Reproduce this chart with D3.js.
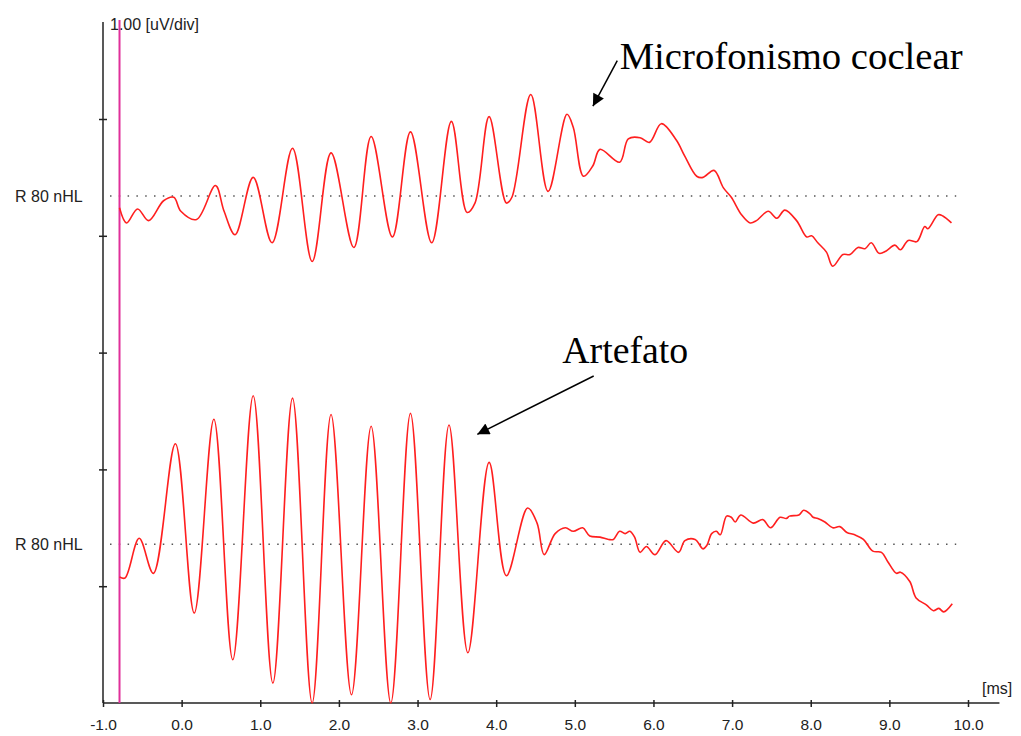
<!DOCTYPE html>
<html>
<head>
<meta charset="utf-8">
<script src="https://cdn.jsdelivr.net/npm/d3@7"></script>
<style>
  body { margin: 0; background: #fff; }
  .lbl { font-family: "Liberation Sans", Arial, sans-serif; font-size: 16px; fill: #222; }
  .tk { font-family: "Liberation Sans", Arial, sans-serif; font-size: 15.5px; fill: #222; }
  .note { font-family: "Liberation Serif", "Times New Roman", serif; font-size: 38px; fill: #000; }
</style>
</head>
<body>
<div id="chart"></div>
<script>
// time axis (ms)
var xTicks = [-1, 0, 1, 2, 3, 4, 5, 6, 7, 8, 9, 10];
// vertical divisions, 1 uV each
var yTicks = [1, 2, 3, 4, 5];
var stimTime = -0.79;

// upper trace (Microfonismo coclear), uV relative to its baseline
var upperTime = [-0.79, -0.70, -0.56, -0.42, -0.23, -0.10, -0.01, 0.19, 0.43, 0.54, 0.68, 0.91, 1.15, 1.41, 1.66, 1.90,
  2.19, 2.41, 2.68, 2.91, 3.18, 3.43, 3.63, 3.73, 3.91, 4.13, 4.20, 4.44, 4.66, 4.90, 4.98, 5.11, 5.23, 5.32, 5.57,
  5.68, 5.83, 5.95, 6.10, 6.29, 6.40, 6.55, 6.63, 6.77, 6.89, 6.99, 7.12, 7.23, 7.31, 7.46, 7.57, 7.67, 7.82, 7.95,
  8.01, 8.09, 8.20, 8.28, 8.41, 8.50, 8.60, 8.69, 8.77, 8.87, 8.96, 9.07, 9.14, 9.24, 9.35, 9.45, 9.49, 9.62, 9.68, 9.79];
var upperValues = [-0.10, -0.23, -0.11, -0.21, -0.04, -0.01, -0.13, -0.20, 0.09, -0.13, -0.33, 0.16, -0.40, 0.41, -0.56, 0.37,
  -0.44, 0.51, -0.35, 0.55, -0.40, 0.64, -0.14, -0.06, 0.68, -0.06, -0.01, 0.87, 0.04, 0.70, 0.59, 0.17, 0.26, 0.40, 0.29,
  0.49, 0.50, 0.46, 0.62, 0.48, 0.34, 0.17, 0.16, 0.22, 0.07, -0.01, -0.16, -0.23, -0.21, -0.13, -0.19, -0.12, -0.21, -0.35,
  -0.34, -0.40, -0.48, -0.60, -0.50, -0.50, -0.44, -0.45, -0.40, -0.49, -0.47, -0.42, -0.46, -0.38, -0.39, -0.26, -0.28, -0.16, -0.17, -0.23];

// lower trace (Artefato)
var lowerTime = [-0.79, -0.72, -0.54, -0.36, -0.08, 0.16, 0.41, 0.65, 0.91, 1.16, 1.41, 1.66, 1.90, 2.16, 2.41, 2.66,
  2.91, 3.16, 3.40, 3.64, 3.91, 4.13, 4.40, 4.52, 4.61, 4.75, 4.88, 4.98, 5.10, 5.19, 5.32, 5.43, 5.49, 5.57, 5.64,
  5.70, 5.76, 5.83, 5.91, 6.02, 6.16, 6.32, 6.40, 6.53, 6.63, 6.68, 6.74, 6.80, 6.85, 6.93, 6.99, 7.04, 7.11, 7.27,
  7.39, 7.49, 7.61, 7.69, 7.73, 7.85, 7.91, 7.99, 8.03, 8.09, 8.18, 8.28, 8.37, 8.46, 8.56, 8.67, 8.79, 8.90, 8.98,
  9.09, 9.14, 9.26, 9.34, 9.47, 9.56, 9.63, 9.69, 9.80];
var lowerValues = [-0.28, -0.29, 0.05, -0.25, 0.86, -0.59, 1.07, -0.99, 1.27, -1.19, 1.25, -1.36, 1.11, -1.29, 1.01, -1.36,
  1.12, -1.33, 1.02, -0.93, 0.70, -0.27, 0.31, 0.18, -0.09, 0.09, 0.14, 0.11, 0.14, 0.07, 0.06, 0.04, 0.04, 0.11, 0.09,
  0.11, 0.06, -0.07, -0.02, -0.09, 0.03, -0.07, 0.03, 0.04, -0.04, -0.01, 0.09, 0.11, 0.08, 0.24, 0.23, 0.19, 0.25, 0.18,
  0.21, 0.14, 0.23, 0.22, 0.24, 0.25, 0.29, 0.26, 0.23, 0.22, 0.19, 0.14, 0.15, 0.10, 0.08, 0.04, -0.06, -0.07, -0.15,
  -0.25, -0.24, -0.32, -0.46, -0.52, -0.57, -0.55, -0.58, -0.51];

var width = 1021, height = 736;

var svg = d3.select("#chart")
  .append("svg")
    .attr("width", width)
    .attr("height", height);

var x = d3.scaleLinear()
  .domain([-1, 10])
  .range([103, 968]);

// one division = 1 uV
var yDiv = d3.scaleLinear()
  .domain([0, 6])
  .range([703, 2.2]);

var upperBase = 4.34, lowerBase = 1.36;

// x axis
var xAxis = svg.append("g")
  .attr("transform", "translate(0,703)")
  .call(d3.axisBottom(x).tickValues(xTicks).tickSize(0)
    .tickFormat(function(d) { return d.toFixed(1) }))
  .call(function(g) { g.select(".domain").remove() });
xAxis.attr("font-size", null).attr("font-family", null);
xAxis.selectAll(".tick line")
  .attr("y1", -3).attr("y2", 4)
  .attr("stroke", "#222").attr("stroke-width", 1.5);
xAxis.selectAll(".tick text")
  .attr("class", "tk")
  .attr("fill", null)
  .attr("y", 27).attr("dy", 0);
svg.append("line")
  .attr("x1", x(-1)).attr("x2", x(10.4))
  .attr("y1", 703).attr("y2", 703)
  .attr("stroke", "#222").attr("stroke-width", 1.5);

// y axis
var yAxis = svg.append("g")
  .attr("transform", "translate(" + x(-1) + ",0)")
  .call(d3.axisLeft(yDiv).tickValues(yTicks).tickSize(0).tickFormat(""))
  .call(function(g) { g.select(".domain").remove() });
yAxis.selectAll(".tick line")
  .attr("x1", -4).attr("x2", 4)
  .attr("stroke", "#222").attr("stroke-width", 1.5);
svg.append("line")
  .attr("x1", x(-1)).attr("x2", x(-1))
  .attr("y1", yDiv(5.83)).attr("y2", 703)
  .attr("stroke", "#222").attr("stroke-width", 1.5);

svg.append("text")
  .attr("class", "lbl")
  .attr("x", 110).attr("y", 30)
  .text("1.00 [uV/div]");
svg.append("text")
  .attr("class", "lbl")
  .attr("x", 982).attr("y", 694)
  .text("[ms]");

// baselines
[upperBase, lowerBase].forEach(function(b) {
  svg.append("line")
    .attr("x1", 110).attr("x2", x(9.85))
    .attr("y1", yDiv(b)).attr("y2", yDiv(b))
    .attr("stroke", "#555")
    .attr("stroke-width", 1.5)
    .attr("stroke-dasharray", "1.5,7.3");
  svg.append("text")
    .attr("class", "lbl")
    .attr("x", 15).attr("y", yDiv(b) + 6)
    .text("R 80 nHL");
});

// stimulus marker
svg.append("line")
  .attr("x1", x(stimTime)).attr("x2", x(stimTime))
  .attr("y1", 20).attr("y2", 703)
  .attr("stroke", "#e0309a")
  .attr("stroke-width", 2);

function trace(times, values, base) {
  var pts = times.map(function(t, i) { return [t, values[i]] });
  svg.append("path")
    .datum(pts)
    .attr("fill", "none")
    .attr("stroke", "#ff1f1f")
    .attr("stroke-width", 1.6)
    .attr("d", d3.line()
      .x(function(d) { return x(d[0]) })
      .y(function(d) { return yDiv(base + d[1]) })
      .curve(d3.curveCatmullRom.alpha(0.5)));
}
trace(upperTime, upperValues, upperBase);
trace(lowerTime, lowerValues, lowerBase);

// annotations
svg.append("defs").append("marker")
  .attr("id", "head")
  .attr("viewBox", "0 0 10 10")
  .attr("refX", 10).attr("refY", 5)
  .attr("markerWidth", 16).attr("markerHeight", 12)
  .attr("markerUnits", "userSpaceOnUse")
  .attr("orient", "auto")
  .append("path")
    .attr("d", "M0,0 L10,5 L0,10 z")
    .attr("fill", "#000");

function note(label, tx, ty, len, ax, ay, bx, by, base) {
  svg.append("text")
    .attr("class", "note")
    .attr("x", x(tx)).attr("y", yDiv(base + ty))
    .attr("textLength", len)
    .attr("lengthAdjust", "spacingAndGlyphs")
    .text(label);
  svg.append("line")
    .attr("x1", x(ax)).attr("y1", yDiv(base + ay))
    .attr("x2", x(bx)).attr("y2", yDiv(base + by))
    .attr("stroke", "#000")
    .attr("stroke-width", 1.5)
    .attr("marker-end", "url(#head)");
}
note("Microfonismo coclear", 5.57, 1.09, 343, 5.54, 1.16, 5.23, 0.77, upperBase);
note("Artefato", 4.84, 1.55, 126, 5.24, 1.44, 3.76, 0.94, lowerBase);
</script>
</body>
</html>
